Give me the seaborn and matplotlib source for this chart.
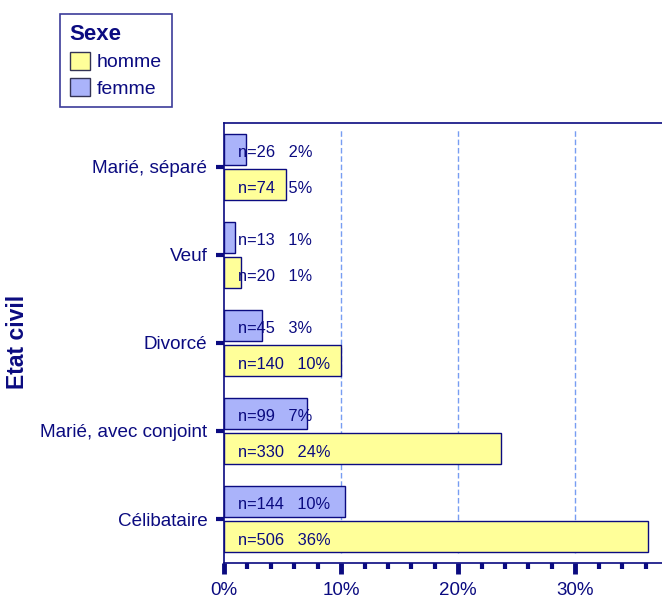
import matplotlib
matplotlib.use("Agg")
import matplotlib.pyplot as plt
from matplotlib.patches import Patch
from matplotlib.ticker import MultipleLocator, FuncFormatter
import seaborn as sns
import pandas as pd

# Marital status by sex (counts); percentages are shares of the whole sample
categories = ["Marié, séparé", "Veuf", "Divorcé", "Marié, avec conjoint", "Célibataire"]
n_femme = [26, 13, 45, 99, 144]
n_homme = [74, 20, 140, 330, 506]
sexes = ["femme", "homme"]

total = sum(n_femme) + sum(n_homme)
rows = []
for sexe, counts in (("femme", n_femme), ("homme", n_homme)):
    for cat, n in zip(categories, counts):
        rows.append({"Etat civil": cat, "Sexe": sexe, "n": n, "pct": n / total * 100})
df = pd.DataFrame(rows)

NAVY = "#0b0b80"
COLORS = {"homme": "#ffff99", "femme": "#aab3fa"}
GRID = "#5f8cf0"

sns.set_style("white")
plt.rcParams["font.family"] = ["Liberation Sans", "DejaVu Sans"]
plt.rcParams["text.color"] = NAVY

fig = plt.figure(figsize=(6.62, 6.01), dpi=100)
ax = fig.add_axes([224 / 662, 1 - 563 / 601, 1 - 224 / 662, (563 - 123) / 601])

sns.barplot(data=df, y="Etat civil", x="pct", hue="Sexe", order=categories,
            hue_order=sexes, palette=COLORS, saturation=1, orient="h",
            width=0.8, gap=0.1, edgecolor=NAVY, linewidth=1.0,
            errorbar=None, legend=False, ax=ax)

ax.set_xlim(0, 37.4)
ax.set_ylim(4.5, -0.5)

# value labels: count and rounded share, left aligned near the axis
for patch, (_, row) in zip(ax.patches, df.iterrows()):
    yc = patch.get_y() + patch.get_height() / 2
    ax.text(1.2, yc + 0.04, f"n={row['n']}   {row['pct']:.0f}%", ha="left",
            va="center", fontsize=11.8, color=NAVY)

# dashed reference lines at the major ticks
for xv in [10, 20, 30]:
    ax.axvline(xv, ymin=0.023, ymax=0.986, color=GRID, lw=1.0, ls=(0, (4, 2)),
               alpha=0.85, zorder=0)

ax.xaxis.set_major_locator(MultipleLocator(10))
ax.xaxis.set_minor_locator(MultipleLocator(2))
ax.xaxis.set_major_formatter(FuncFormatter(lambda v, p: f"{v:.0f}%"))
ax.tick_params(axis="x", which="major", direction="out", length=8, width=3.5,
               color=NAVY, labelcolor=NAVY, labelsize=13.5, pad=6)
ax.tick_params(axis="x", which="minor", direction="out", length=4.5, width=3, color=NAVY)
ax.tick_params(axis="y", which="major", direction="out", length=6, width=3,
               color=NAVY, labelcolor=NAVY, labelsize=13.6, pad=6)
ax.xaxis.set_ticks_position("bottom")
ax.yaxis.set_ticks_position("left")

ax.set_xlabel("")
ax.set_ylabel("")
fig.text(18 / 662, 1 - 342 / 601, "Etat civil", rotation=90, ha="center", va="center",
         fontsize=16.5, fontweight="bold", color=NAVY)

for side in ["left", "top", "bottom"]:
    ax.spines[side].set_visible(True)
    ax.spines[side].set_color(NAVY)
    ax.spines[side].set_linewidth(1.2)
ax.spines["right"].set_visible(False)

handles = [Patch(facecolor=COLORS[s], edgecolor="#333355", linewidth=1.0, label=s)
           for s in ["homme", "femme"]]
leg = fig.legend(handles=handles, title="Sexe", loc="upper left",
                 bbox_to_anchor=(60 / 662, 1 - 14 / 601), borderaxespad=0,
                 fontsize=14, title_fontproperties={"weight": "bold", "size": 16},
                 frameon=True, fancybox=False, edgecolor=NAVY, handlelength=1.05,
                 handleheight=1.05, handletextpad=0.35, labelspacing=0.35,
                 borderpad=0.5, alignment="left")
leg.get_frame().set_linewidth(1.2)
leg.get_title().set_color(NAVY)
for t in leg.get_texts():
    t.set_color(NAVY)

fig.savefig("out.png", dpi=100, facecolor="white")
